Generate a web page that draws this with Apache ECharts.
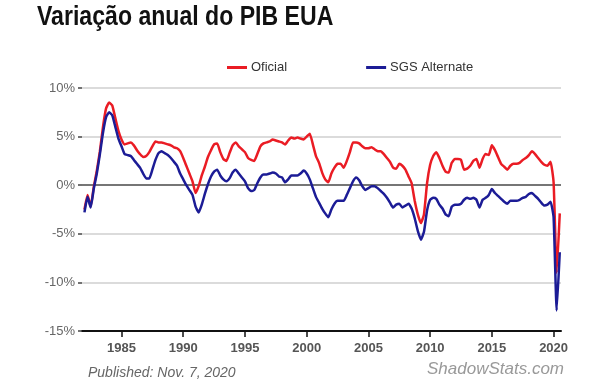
<!DOCTYPE html>
<html>
<head>
<meta charset="utf-8">
<script src="https://cdn.jsdelivr.net/npm/echarts@6/dist/echarts.min.js"></script>
<style>
html,body{margin:0;padding:0;background:#fff;}
#chart{width:600px;height:384px;}
</style>
</head>
<body>
<div id="chart"></div>
<script>
// Quarterly periods from 1982 Q1 to 2020 Q3 (decimal year = quarter start)
const startYear = 1982;
const oficial = [
  -2.5,-1.0,-2.2,-0.2,
  1.5,3.5,6.0,7.9,
  8.5,8.2,6.9,5.6,
  4.7,4.2,4.3,4.4,
  4.1,3.6,3.2,2.9,
  3.0,3.4,4.0,4.5,
  4.4,4.4,4.3,4.2,
  4.1,3.9,3.8,3.5,
  2.8,2.0,1.2,0.4,
  -0.8,-0.1,1.0,1.9,
  2.9,3.6,4.2,4.3,
  3.4,2.7,2.5,3.3,
  4.1,4.4,4.0,3.7,
  3.4,2.8,2.6,2.5,
  3.2,4.0,4.3,4.4,
  4.5,4.7,4.6,4.5,
  4.4,4.2,4.6,4.9,
  4.8,4.9,4.8,4.7,
  5.0,5.3,4.2,3.0,
  2.3,1.3,0.6,0.3,
  1.2,1.8,2.2,2.2,
  1.8,2.5,3.4,4.4,
  4.4,4.3,4.0,3.8,
  3.8,3.9,3.7,3.5,
  3.5,3.2,2.8,2.4,
  1.8,1.7,2.2,2.0,
  1.6,0.9,0.2,-1.6,
  -3.0,-3.9,-3.0,0.2,
  2.1,3.0,3.4,2.8,
  2.0,1.4,1.3,2.3,
  2.7,2.7,2.6,1.6,
  1.7,2.0,2.5,2.7,
  1.8,2.7,3.2,3.1,
  4.1,3.6,2.9,2.2,
  1.9,1.6,2.0,2.2,
  2.2,2.3,2.6,2.8,
  3.1,3.5,3.2,2.8,
  2.4,2.1,2.0,2.4,
  0.3,-9.0,-2.9
];
const sgsAlternate = [
  -2.8,-1.2,-2.3,-0.4,
  1.2,3.2,5.4,7.0,
  7.5,7.2,6.0,4.8,
  4.0,3.2,3.1,3.0,
  2.6,2.2,1.8,1.2,
  0.7,0.7,1.6,2.6,
  3.3,3.5,3.3,3.1,
  2.8,2.4,2.0,1.2,
  0.6,0.0,-0.5,-1.0,
  -2.2,-2.8,-2.0,-0.9,
  0.1,0.9,1.4,1.6,
  1.0,0.6,0.4,0.7,
  1.3,1.6,1.2,0.8,
  0.4,-0.3,-0.6,-0.5,
  0.2,0.8,1.1,1.1,
  1.2,1.3,1.2,0.9,
  0.8,0.3,0.6,1.0,
  1.0,1.0,1.2,1.5,
  1.2,0.6,-0.3,-1.2,
  -1.8,-2.4,-2.9,-3.3,
  -2.5,-1.9,-1.6,-1.6,
  -1.6,-1.0,-0.3,0.4,
  0.8,0.5,-0.1,-0.5,
  -0.3,-0.1,-0.1,-0.3,
  -0.6,-0.9,-1.3,-1.8,
  -2.3,-2.0,-1.9,-2.3,
  -2.1,-1.9,-2.4,-3.4,
  -4.7,-5.6,-4.8,-2.6,
  -1.5,-1.3,-1.4,-2.0,
  -2.4,-3.0,-3.2,-2.2,
  -2.0,-2.0,-1.9,-1.5,
  -1.3,-1.4,-1.3,-1.5,
  -2.3,-1.5,-1.3,-1.0,
  -0.4,-0.8,-1.1,-1.4,
  -1.7,-1.9,-1.6,-1.6,
  -1.6,-1.5,-1.3,-1.2,
  -0.9,-0.8,-1.1,-1.4,
  -1.8,-2.1,-2.0,-1.7,
  -3.3,-12.9,-6.9
];
const xTickYears = [1985,1990,1995,2000,2005,2010,2015,2020];
const yTicks = [-15,-10,-5,0,5,10];
const seriesNames = ['Oficial','SGS Alternate'];

const periods = oficial.map((_, i) => startYear + i / 4);
const pairs = arr => arr.map((v, i) => [periods[i], v]);

const chart = echarts.init(document.getElementById('chart'), null, {renderer:'canvas'});
chart.setOption({
  animation:false,
  backgroundColor:'#fff',
  legend:{
    data:seriesNames,
    left:227, top:61, itemGap:79,
    icon:'rect', itemWidth:20, itemHeight:3,
    padding:0,
    textStyle:{fontFamily:'Liberation Sans', fontSize:13, color:'#333', padding:[0,0,0,-1]}
  },
  grid:{left:82, right:39, top:88, bottom:53},
  xAxis:{
    type:'value', min:1981.8, max:2020.6,
    axisLine:{show:true, onZero:false, lineStyle:{color:'#111', width:2}},
    axisTick:{show:true, customValues:xTickYears, length:6, lineStyle:{color:'#111', width:1.5}},
    axisLabel:{customValues:xTickYears, formatter:v => String(v), margin:11,
      fontFamily:'Liberation Sans', fontWeight:'bold', fontSize:13, color:'#555'},
    splitLine:{show:false}
  },
  yAxis:{
    type:'value', min:yTicks[0], max:yTicks[yTicks.length-1], interval:5,
    axisLine:{show:false},
    axisTick:{show:true, length:4, lineStyle:{color:'#444', width:1.5}},
    axisLabel:{formatter:'{value}%', margin:7, fontFamily:'Liberation Sans', fontSize:13, color:'#666'},
    splitLine:{show:true, lineStyle:{color:'#cfcfcf', width:1.5}}
  },
  series:[
    {
      name:seriesNames[0], type:'line', data:pairs(oficial), showSymbol:false, smooth:0.15,
      lineStyle:{color:'#ea1c24', width:2.5}, itemStyle:{color:'#ea1c24'}, z:3,
      markLine:{silent:true, symbol:'none', label:{show:false},
        lineStyle:{color:'#555', width:1.5, type:'solid'}, data:[{yAxis:0}], z:1}
    },
    {
      name:seriesNames[1], type:'line', data:pairs(sgsAlternate), showSymbol:false, smooth:0.15,
      lineStyle:{color:'#1c1c96', width:2.5}, itemStyle:{color:'#1c1c96'}, z:4
    }
  ],
  graphic:[
    {type:'text', x:37, y:4, scaleX:0.855, style:{text:'Variação anual do PIB EUA', fontFamily:'Liberation Sans', fontWeight:'bold', fontSize:27, fill:'#111'}},
    {type:'text', left:88, top:366, style:{text:'Published: Nov. 7, 2020', fontFamily:'Liberation Sans', fontStyle:'italic', fontSize:14, fill:'#666'}},
    {type:'text', left:427, top:361, style:{text:'ShadowStats.com', fontFamily:'Liberation Sans', fontStyle:'italic', fontSize:17, fill:'#999'}}
  ]
});
</script>
</body>
</html>
